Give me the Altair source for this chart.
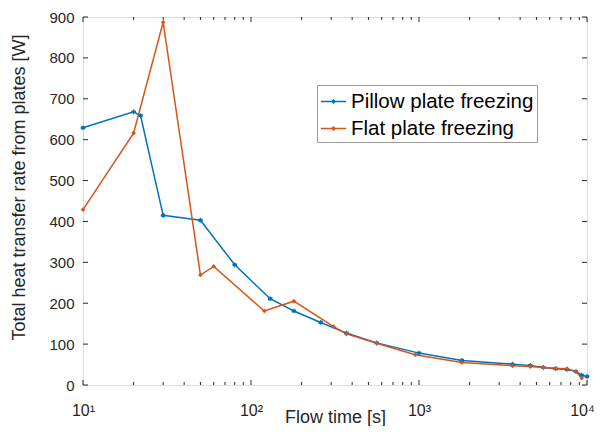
import altair as alt
import pandas as pd

pillow_t = [10, 20, 22, 30, 50, 80, 130, 180, 260, 370, 560, 1000, 1800, 3600, 4600, 5500, 6500, 7600, 8600, 9300, 10000]
pillow_q = [629, 668, 659, 415, 403, 294, 211, 181, 153, 127, 103, 78, 60, 51, 48, 43, 40, 38, 33, 24, 21]
flat_t = [10, 20, 30, 50, 60, 120, 180, 310, 370, 560, 950, 1800, 3600, 4600, 5500, 6500, 7600, 8600, 9300]
flat_q = [429, 616, 887, 269, 290, 181, 205, 143, 125, 102, 74, 55, 47, 45, 43, 41, 40, 33, 17]

series_names = ["Pillow plate freezing", "Flat plate freezing"]
series_colors = ["#0072BD", "#D95319"]
x_major = [10, 100, 1000, 10000]
x_minor = [m * d for d in [10, 100, 1000] for m in range(2, 10)]
y_ticks = list(range(0, 1000, 100))

df = pd.DataFrame(
    [{"t": t, "q": q, "s": series_names[0], "o": i} for i, (t, q) in enumerate(zip(pillow_t, pillow_q))]
    + [{"t": t, "q": q, "s": series_names[1], "o": i} for i, (t, q) in enumerate(zip(flat_t, flat_q))]
)

W, H = 504, 368
FONT = "Liberation Sans"
TXT = "#262626"
xdom = [10, 10000]
ydom = [0, 900]
XS = alt.Scale(type="log", domain=xdom, nice=False)
YS = alt.Scale(domain=ydom, nice=False, zero=False)

asterisk = "M0,-1V1M-0.87,-0.5L0.87,0.5M-0.87,0.5L0.87,-0.5M-1,0H1"
legend_sym = "M-1,0H1M0,-0.12L0.12,0L0,0.12L-0.12,0Z"

color = alt.Color(
    "s:N",
    scale=alt.Scale(domain=series_names, range=series_colors),
    sort=series_names,
    legend=alt.Legend(
        title=None, orient="none", legendX=234, legendY=68,
        strokeColor="#9a9a9a", fillColor="white", padding=3,
        labelFont=FONT, labelFontSize=20.5, labelColor="black", labelOffset=4,
        symbolType=legend_sym, symbolSize=625, symbolStrokeWidth=1.5,
        rowPadding=3, labelLimit=400,
    ),
)

lines = alt.Chart(df).mark_line(strokeWidth=1.5).encode(
    x=alt.X("t:Q", scale=XS, axis=alt.Axis(
        orient="bottom", values=x_major, tickSize=0, domain=False, grid=False, labelFlush=False,
        labelExpr="'10' + ['\u2070','\u00b9','\u00b2','\u00b3','\u2074'][round(log(datum.value)/LN10)]",
        labelOffset={"condition": {"test": "datum.value >= 10000", "value": -5}, "value": 0},
        labelFont=FONT, labelFontSize=16, labelColor=TXT, labelPadding=17,
        title="Flow time [s]", titleFont=FONT, titleFontSize=18, titleFontWeight="normal",
        titleColor=TXT, titleY=37, titleBaseline="alphabetic")),
    y=alt.Y("q:Q", scale=YS, axis=alt.Axis(
        orient="left", values=y_ticks, tickSize=0, domain=False, grid=False, labelFlush=False,
        labelFont=FONT, labelFontSize=15, labelColor=TXT, labelPadding=9,
        title="Total heat transfer rate from plates [W]", titleFont=FONT, titleFontSize=18,
        titleFontWeight="normal", titleColor=TXT, titleX=-59, titleY=170, titleBaseline="alphabetic")),
    color=color,
    order="o:Q",
)

pts_p = alt.Chart(df).transform_filter(alt.datum.s == series_names[0]).mark_point(
    filled=False, strokeWidth=1.3, size=22, opacity=1, shape=asterisk
).encode(x=alt.X("t:Q", axis=None), y=alt.Y("q:Q", axis=None), color=alt.Color("s:N", legend=None))

pts_f = alt.Chart(df).transform_filter(alt.datum.s == series_names[1]).mark_point(
    filled=True, size=22, opacity=1, shape="diamond"
).encode(x=alt.X("t:Q", axis=None), y=alt.Y("q:Q", axis=None), color=alt.Color("s:N", legend=None))


def xticks(vals, edge, length, direction):
    # inward tick marks along the bottom (edge=0, direction -1) or top (edge=900, direction +1)
    return alt.Chart(pd.DataFrame({"v": vals, "e": [edge] * len(vals)})).mark_tick(
        orient="vertical", size=length, thickness=1, color=TXT, opacity=1,
        yOffset=direction * length / 2,
    ).encode(
        x=alt.X("v:Q", axis=None),
        y=alt.Y("e:Q", axis=None),
    )


def yticks(vals, edge, length, direction):
    return alt.Chart(pd.DataFrame({"v": vals, "e": [edge] * len(vals)})).mark_tick(
        orient="horizontal", size=length, thickness=1, color=TXT, opacity=1,
        xOffset=direction * length / 2,
    ).encode(
        y=alt.Y("v:Q", axis=None),
        x=alt.X("e:Q", axis=None),
    )


ticks = [
    xticks(x_minor, ydom[0], 3, -1), xticks(x_major, ydom[0], 5, -1),
    xticks(x_minor, ydom[1], 3, 1), xticks(x_major, ydom[1], 5, 1),
    yticks(y_ticks, xdom[0], 5, 1), yticks(y_ticks, xdom[1], 5, -1),
]

chart = alt.layer(lines, pts_p, pts_f, *ticks).resolve_axis(
    x="independent", y="independent"
).properties(
    width=W, height=H,
    autosize=alt.AutoSizeParams(type="none"),
    padding={"left": 75, "top": 9, "right": 7, "bottom": 41},
).configure_view(stroke=TXT, strokeWidth=1).configure(background="white")

chart.save("out.html", embed_options={"renderer": "svg", "actions": False})
